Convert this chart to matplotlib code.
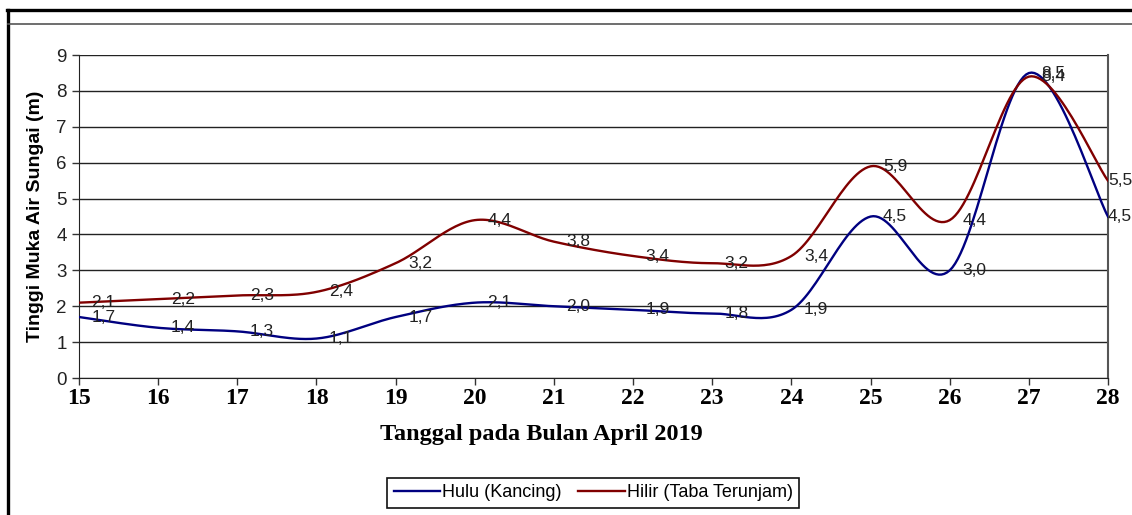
import numpy as np
import matplotlib
matplotlib.use("Agg")
import matplotlib.pyplot as plt
from matplotlib.lines import Line2D

# Dates in April 2019 and river water levels (m)
days = [15, 16, 17, 18, 19, 20, 21, 22, 23, 24, 25, 26, 27, 28]
hulu = [1.7, 1.4, 1.3, 1.1, 1.7, 2.1, 2.0, 1.9, 1.8, 1.9, 4.5, 3.0, 8.5, 4.5]
hilir = [2.1, 2.2, 2.3, 2.4, 3.2, 4.4, 3.8, 3.4, 3.2, 3.4, 5.9, 4.4, 8.4, 5.5]
series_names = ["Hulu (Kancing)", "Hilir (Taba Terunjam)"]
series_colors = ["#000080", "#800000"]
y_ticks = list(range(0, 10))


def smooth_curve(x, y, steps=30):
    """Spreadsheet-style smoothed line: cubic Bezier segments through every point."""
    x = np.asarray(x, float)
    y = np.asarray(y, float)
    px = np.concatenate([[x[0]], x, [x[-1]]])
    py = np.concatenate([[y[0]], y, [y[-1]]])
    t = np.linspace(0, 1, steps)
    xs, ys = [], []
    for i in range(1, len(px) - 2):
        p0 = np.array([px[i], py[i]])
        p3 = np.array([px[i + 1], py[i + 1]])
        c1 = p0 + (p3 - np.array([px[i - 1], py[i - 1]])) / 6.0
        c2 = p3 - (np.array([px[i + 2], py[i + 2]]) - p0) / 6.0
        b = (np.outer((1 - t) ** 3, p0) + np.outer(3 * (1 - t) ** 2 * t, c1)
             + np.outer(3 * (1 - t) * t ** 2, c2) + np.outer(t ** 3, p3))
        xs.append(b[:, 0])
        ys.append(b[:, 1])
    return np.concatenate(xs), np.concatenate(ys)


fig = plt.figure(figsize=(11.32, 5.15), dpi=100)
ax = fig.add_axes([0.0698, 0.266, 0.9090, 0.627])

for vals, name, col in zip([hulu, hilir], series_names, series_colors):
    sx, sy = smooth_curve(days, vals)
    ax.plot(sx, sy, color=col, lw=1.7, label=name, zorder=3)
    for i, (d, v) in enumerate(zip(days, vals)):
        # labels sit right of each point; the last ones hug the plot edge
        dx = 0 if i == len(days) - 1 else 9
        ax.annotate(f"{v:.1f}".replace(".", ","), (d, v), xytext=(dx, 0),
                    textcoords="offset points", va="center", ha="left",
                    fontsize=12.5, color="#222222", family="Liberation Sans",
                    annotation_clip=False, zorder=4)

ax.set_xlim(days[0], days[-1])
ax.set_ylim(0, 9)
ax.set_xticks(days)
ax.set_yticks(y_ticks)
ax.set_xticklabels([str(d) for d in days], family="Liberation Serif",
                   fontweight="bold", fontsize=17)
ax.set_yticklabels([str(v) for v in y_ticks], family="Liberation Sans",
                   fontsize=13.5, color="#222222")
ax.tick_params(axis="both", direction="out", length=5, width=1, color="#333333")
ax.tick_params(axis="x", pad=2)
ax.tick_params(axis="y", pad=4)
ax.yaxis.grid(True, color="#222222", lw=1)
ax.set_axisbelow(True)
ax.spines["top"].set_visible(False)
ax.spines["right"].set_color("#555555")
ax.spines["right"].set_linewidth(1.5)
ax.spines["left"].set_color("#222222")
ax.spines["bottom"].set_color("#222222")

ax.set_ylabel("Tinggi Muka Air Sungai (m)", family="Liberation Sans",
              fontweight="bold", fontsize=14, labelpad=9)
fig.text(0.478, 0.157, "Tanggal pada Bulan April 2019", ha="center", va="center",
         family="Liberation Serif", fontweight="bold", fontsize=17.5)

leg = fig.legend(loc="center", bbox_to_anchor=(0.524, 0.043), ncol=2,
                 prop={"family": "Liberation Sans", "size": 13},
                 handlelength=2.6, handletextpad=0.1, columnspacing=0.9,
                 borderpad=0.35, fancybox=False, framealpha=1)
leg.get_frame().set_edgecolor("#111111")
leg.get_frame().set_linewidth(1.2)

# Outer frame lines
fig.add_artist(Line2D([0.0068, 0.0068], [0.0, 0.981], transform=fig.transFigure,
                      color="black", lw=2.4))
fig.add_artist(Line2D([0.0058, 1.0], [0.981, 0.981], transform=fig.transFigure,
                      color="black", lw=2.4))
fig.add_artist(Line2D([0.0068, 1.0], [0.953, 0.953], transform=fig.transFigure,
                      color="#555555", lw=1.2))

fig.savefig("out.png", dpi=100)
